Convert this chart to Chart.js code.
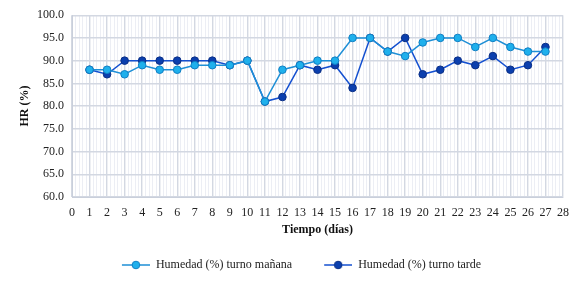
<!DOCTYPE html>
<html>
<head>
<meta charset="utf-8">
<script src="https://cdn.jsdelivr.net/npm/chart.js@4/dist/chart.umd.min.js"></script>
<style>
  body { margin: 0; background: #fff; }
  #wrap { width: 584px; height: 281px; }
</style>
</head>
<body>
<div id="wrap"><canvas id="myChart" width="584" height="281"></canvas></div>
<script>
// dias y humedad
const dias = [1,2,3,4,5,6,7,8,9,10,11,12,13,14,15,16,17,18,19,20,21,22,23,24,25,26,27];
const humManana = [88,88,87,89,88,88,89,89,89,90,81,88,89,90,90,95,95,92,91,94,95,95,93,95,93,92,92];
const humTarde  = [88,87,90,90,90,90,90,90,89,90,81,82,89,88,89,84,95,92,95,87,88,90,89,91,88,89,93];
const yTicks = [60,65,70,75,80,85,90,95,100];

const colManana = '#1fb0ec';
const colTarde = '#0b3fae';

// marcador de leyenda: linea con circulo (con hueco a la izquierda)
function legendMarker(fill, line, border) {
  const c = document.createElement('canvas');
  c.width = 50; c.height = 10;
  const g = c.getContext('2d');
  g.strokeStyle = line; g.lineWidth = 1.5;
  g.beginPath(); g.moveTo(22, 5); g.lineTo(50, 5); g.stroke();
  g.fillStyle = fill; g.strokeStyle = border; g.lineWidth = 1;
  g.beginPath(); g.arc(36, 5, 3.8, 0, Math.PI * 2); g.fill(); g.stroke();
  return c;
}

const serif = "'Liberation Serif', 'Times New Roman', serif";

const ctx = document.getElementById('myChart').getContext('2d');
const data = {
  datasets: [{
    label: 'Humedad (%) turno mañana',
    data: dias.map((d, i) => ({x: d, y: humManana[i]})),
    borderColor: '#1e8fd6',
    backgroundColor: colManana,
    pointBackgroundColor: colManana,
    pointBorderColor: '#0f7fc4',
    pointRadius: 3.8,
    pointBorderWidth: 1,
    borderWidth: 1.5,
    tension: 0
  }, {
    label: 'Humedad (%) turno tarde',
    data: dias.map((d, i) => ({x: d, y: humTarde[i]})),
    borderColor: '#1450d0',
    backgroundColor: colTarde,
    pointBackgroundColor: colTarde,
    pointBorderColor: '#0a2f86',
    pointRadius: 3.8,
    pointBorderWidth: 1,
    borderWidth: 1.5,
    tension: 0
  }]
};

const config = {
  type: 'line',
  data: data,
  options: {
    responsive: false,
    animation: false,
    layout: { padding: { left: 18, right: 21, top: 15, bottom: 0 } },
    plugins: {
      tooltip: { enabled: false },
      legend: {
        position: 'bottom',
        labels: {
          font: { family: serif, size: 12 },
          color: '#222',
          usePointStyle: true,
          pointStyleWidth: 50,
          padding: 10,
          generateLabels: (chart) => chart.data.datasets.map((ds, i) => ({
            text: ds.label,
            fontColor: '#222',
            pointStyle: legendMarker(ds.pointBackgroundColor, ds.borderColor, ds.pointBorderColor),
            datasetIndex: i,
            lineWidth: 0
          }))
        }
      }
    },
    scales: {
      x: {
        type: 'linear',
        min: 0, max: 28,
        ticks: { stepSize: 1, autoSkip: false, maxRotation: 0, minRotation: 0, font: { family: serif, size: 12 }, color: '#222', padding: 9 },
        grid: { color: '#d3d8e2', lineWidth: 1.4, drawTicks: false },
        border: { color: '#c9cfdb' },
        title: { display: true, text: 'Tiempo (días)', font: { family: serif, size: 12, weight: 'bold' }, color: '#111', padding: { top: 3, bottom: 12 } },
        afterFit: (s) => { s.height = 52; }
      },
      // rejilla menor: 5 divisiones por dia (0..140)
      xMinor: {
        type: 'linear',
        position: 'top',
        z: -1,
        min: 0, max: 140,
        ticks: { display: false, stepSize: 1, autoSkip: false, maxTicksLimit: 200 },
        grid: {
          color: (c) => (c.tick && c.tick.value % 5 === 0) ? 'rgba(0,0,0,0)' : '#eceef4',
          lineWidth: 1, drawTicks: false
        },
        border: { display: false },
        afterFit: (s) => { s.height = 0; }
      },
      y: {
        min: 60, max: 100,
        afterBuildTicks: (s) => { s.ticks = yTicks.map(v => ({value: v})); },
        ticks: { font: { family: serif, size: 12 }, color: '#222', padding: 8, callback: (v) => v.toFixed(1) },
        grid: { color: '#d3d8e2', lineWidth: 1.4, drawTicks: false },
        border: { color: '#c9cfdb' },
        title: { display: true, text: 'HR (%)', font: { family: serif, size: 12, weight: 'bold' }, color: '#111', padding: { top: 0, bottom: 4 } },
        afterFit: (s) => { s.width = 54; }
      }
    }
  }
};
const myChart = new Chart(ctx, config);
</script>
</body>
</html>
